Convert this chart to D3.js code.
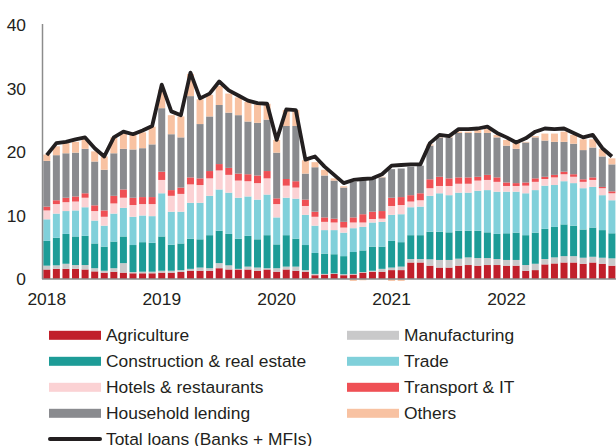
<!DOCTYPE html>
<html>
<head>
<meta charset="utf-8">
<script src="https://cdn.jsdelivr.net/npm/d3@7"></script>
<style>
  body { margin: 0; background: #fff; }
  text { font-family: "Liberation Sans", Arial, sans-serif; fill: #231f20; }
</style>
</head>
<body>
<div id="chart"></div>
<script>
// monthly data, Jan 2018 - Dec 2022
var years = ["2018", "2019", "2020", "2021", "2022"];
var yTicks = [0, 10, 20, 30, 40];

var agriculture = [1.5,1.6,1.6,1.6,1.5,1.2,1.0,1.15,1.0,0.9,0.9,0.9, 1.0,1.0,1.1,1.3,1.3,1.3,1.7,1.5,1.5,1.5,1.3,1.5, 1.15,1.5,1.3,1.15,0.6,0.7,0.8,0.6,0.7,1.0,1.15,1.15, 1.4,1.4,2.6,2.6,2.1,1.8,1.8,2.1,2.2,2.1,2.2,2.2, 2.1,2.1,1.3,1.4,2.3,2.45,2.6,2.6,2.4,2.6,2.4,2.1];
var manufacturing = [0.6,0.55,0.8,0.6,0.7,0.5,0.3,0.55,1.5,0.2,0.25,0.25, 0.3,0.3,0.3,0.3,0.5,0.4,0.8,0.65,0.1,0.45,0.5,0.2, 0.55,0.45,0.65,0.25,0.2,0.1,0.1,0.15,0.1,0.1,0.15,0.45, 0.4,0.55,0.55,0.55,1.0,1.2,1.2,1.1,1.2,1.2,1.1,0.95, 0.9,0.9,0.9,1.0,0.85,0.95,1.0,1.0,0.95,0.9,0.95,1.15];
var construction = [3.9,4.35,4.7,4.5,4.6,3.9,3.8,4.2,4.2,4.25,4.65,4.55, 5.4,4.1,4.2,4.75,4.45,5.2,5.1,4.95,4.75,4.85,4.45,5.2, 3.75,4.95,4.4,3.95,3.3,3.2,3.0,2.85,3.45,3.4,3.8,3.5, 4.2,3.85,3.75,3.75,4.35,4.45,4.35,4.4,4.2,4.3,4.05,3.95, 4.2,4.3,4.7,4.9,4.75,4.8,5.0,4.8,4.45,4.6,4.35,3.95];
var trade = [3.4,3.8,3.6,4.1,4.5,3.6,3.3,4.4,4.5,4.45,4.2,4.2, 6.8,5.2,5.0,5.65,5.75,6.2,6.5,6.5,6.45,6.2,6.25,6.4, 4.25,5.9,6.3,4.75,4.3,3.7,3.8,3.7,3.75,3.7,3.8,3.9, 4.1,4.4,4.4,4.5,5.65,6.05,5.85,6.0,6.0,6.3,6.65,6.65, 6.55,6.45,6.6,6.7,6.8,6.6,6.8,6.7,6.5,6.4,5.5,5.2];
var hotels = [1.4,1.5,1.4,1.4,1.5,1.5,1.4,1.6,1.6,1.85,1.8,1.9, 2.1,2.5,2.8,2.9,2.8,2.75,3.0,2.8,2.7,2.4,2.6,2.55, 2.1,1.9,1.75,1.4,1.4,1.3,1.2,0.8,0.9,0.7,0.55,0.5, 1.4,1.45,0.9,1.0,1.2,1.15,1.45,1.4,1.4,1.6,1.6,1.55, 0.9,0.9,1.2,1.3,1.05,1.2,1.1,1.0,1.0,1.1,1.1,1.1];
var transport = [0.6,0.6,0.7,0.8,0.7,0.9,1.0,1.2,1.3,1.15,1.1,1.1, 1.3,0.9,1.0,1.1,1.05,1.15,1.0,1.1,1.1,1.1,1.2,1.15, 0.9,1.05,1.0,1.0,0.8,0.7,0.6,0.9,0.8,1.3,1.15,1.2, 1.3,1.25,1.0,1.1,1.4,1.45,1.2,1.0,1.0,0.6,0.8,0.7, 0.55,0.45,0.5,0.55,0.35,0.4,0.4,0.4,0.4,0.4,0.2,0.3];
var household = [7.2,7.1,7.0,6.9,7.0,6.9,6.4,6.7,6.4,7.6,7.7,8.3, 10.0,8.8,7.9,12.8,8.55,8.6,9.3,8.7,9.2,8.3,8.3,8.1, 7.2,8.35,8.7,4.1,7.0,6.6,6.0,5.4,5.6,5.4,5.15,5.3, 4.5,4.5,4.5,4.35,5.3,6.2,6.45,7.0,7.0,6.9,6.6,6.3, 5.8,5.4,6.3,6.45,5.7,5.2,4.7,4.8,4.6,4.7,4.8,4.25];
var others = [1.0,1.4,1.6,1.7,1.5,1.6,2.1,2.5,2.4,2.3,2.5,2.8, 2.9,3.0,3.3,3.5,3.9,3.4,3.0,3.0,2.8,3.1,2.9,2.5, 2.0,2.5,2.5,2.1,0.8,0.9,0.35,0.2,-0.3,-0.2,0.1,0.1, -0.3,-0.3,0,0,0.2,0.2,0.2,0.2,0.2,0.5,0.6,0.4, 0.9,0.9,0.1,0.2,1.1,1.3,1.6,1.4,1.7,1.3,1.2,0.95];
var totalLoans = [19.5,21.4,21.6,22.0,22.3,20.6,19.3,22.3,23.2,22.8,23.4,24.1, 30.6,26.4,25.8,32.5,28.45,29.2,31.1,29.7,28.9,28.1,27.7,27.6, 21.9,26.7,26.6,18.8,19.3,17.7,16.4,15.1,15.6,15.75,15.85,16.5, 17.85,17.95,18.05,18.05,21.4,22.7,22.5,23.6,23.6,23.7,24.0,23.0, 22.3,21.5,22.15,23.2,23.7,23.6,23.7,23.0,22.3,22.7,20.6,19.3];

var series = [
    { key: "Agriculture", values: agriculture, color: "#c1202b" },
    { key: "Manufacturing", values: manufacturing, color: "#c9c9ca" },
    { key: "Construction & real estate", values: construction, color: "#1d9c97" },
    { key: "Trade", values: trade, color: "#80d0da" },
    { key: "Hotels & restaurants", values: hotels, color: "#fbd2d4" },
    { key: "Transport & IT", values: transport, color: "#ef5055" },
    { key: "Household lending", values: household, color: "#8a8b8f" },
    { key: "Others", values: others, color: "#f8c2a2" }
];

var w = 616, h = 446;
var fontSize = "17.4px";

var months = [];
years.forEach(function(y) {
    for (var m = 1; m <= 12; m++) months.push(y + "-" + m);
});

var rows = months.map(function(m, i) {
    var r = { month: m };
    series.forEach(function(s) { r[s.key] = s.values[i]; });
    return r;
});

var stacked = d3.stack()
    .keys(series.map(function(s) { return s.key; }))
    .offset(d3.stackOffsetDiverging)(rows);

var x = d3.scaleBand()
    .domain(months)
    .range([42, 616.7])
    .paddingInner(0.27)
    .paddingOuter(0.135);

var y = d3.scaleLinear()
    .domain([0, 40])
    .range([279, 25]);

var svg = d3.select("#chart")
    .append("svg")
    .attr("width", w)
    .attr("height", h);

// bars
svg.selectAll("g.layer")
    .data(stacked)
    .enter()
    .append("g")
    .attr("class", "layer")
    .attr("fill", function(d, i) { return series[i].color; })
    .selectAll("rect")
    .data(function(d) { return d; })
    .enter()
    .append("rect")
    .attr("x", function(d) { return x(d.data.month); })
    .attr("width", x.bandwidth())
    .attr("y", function(d) { return y(Math.max(d[0], d[1])); })
    .attr("height", function(d) { return Math.abs(y(d[0]) - y(d[1])); });

// axes
svg.append("line")
    .attr("x1", 42.5).attr("x2", 42.5)
    .attr("y1", y(40) - 1).attr("y2", y(0))
    .style("stroke", "#8c8c8c")
    .style("stroke-width", 1.5);

svg.append("line")
    .attr("x1", 42).attr("x2", 616)
    .attr("y1", y(0)).attr("y2", y(0))
    .style("stroke", "#8c8c8c")
    .style("stroke-width", 1.5);

svg.selectAll("text.ytick")
    .data(yTicks)
    .enter()
    .append("text")
    .attr("class", "ytick")
    .attr("x", 26)
    .attr("y", function(d) { return y(d); })
    .attr("dy", "0.36em")
    .attr("text-anchor", "end")
    .style("font-size", fontSize)
    .text(function(d) { return d; });

svg.selectAll("text.xtick")
    .data(years)
    .enter()
    .append("text")
    .attr("class", "xtick")
    .attr("x", function(d) { return x(d + "-1") + x.bandwidth() / 2; })
    .attr("y", 305)
    .attr("text-anchor", "middle")
    .style("font-size", fontSize)
    .text(function(d) { return d; });

// total loans line
var line = d3.line()
    .x(function(d, i) { return x(months[i]) + x.bandwidth() / 2; })
    .y(function(d) { return y(d); });

svg.append("path")
    .datum(totalLoans)
    .attr("d", line)
    .style("fill", "none")
    .style("stroke", "#231f20")
    .style("stroke-width", 3.8)
    .style("stroke-linejoin", "round");

// legend
var legend = svg.append("g");
series.forEach(function(s, i) {
    var lx = (i % 2 === 0) ? 49 : 347;
    var ly = 335.3 + Math.floor(i / 2) * 26;
    legend.append("rect")
        .attr("x", lx).attr("y", ly - 4.5)
        .attr("width", 52).attr("height", 9)
        .style("fill", s.color);
    legend.append("text")
        .attr("x", lx + 57).attr("y", ly)
        .attr("dy", "0.35em")
        .style("font-size", fontSize)
        .text(s.key);
});

legend.append("line")
    .attr("x1", 50).attr("x2", 100)
    .attr("y1", 439).attr("y2", 439)
    .style("stroke", "#231f20")
    .style("stroke-width", 4)
    .style("stroke-linecap", "round");
legend.append("text")
    .attr("x", 106).attr("y", 438.5)
    .attr("dy", "0.35em")
    .style("font-size", fontSize)
    .text("Total loans (Banks + MFIs)");
</script>
</body>
</html>
